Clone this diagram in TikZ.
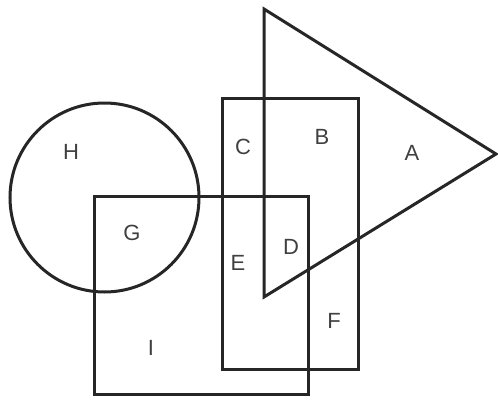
\documentclass[tikz,border=0pt]{standalone}
\usepackage{fontspec}
\setmainfont{Liberation Sans}
\usetikzlibrary{positioning}
\tikzset{
  outline/.style={draw=black!85,line width=3pt,line join=miter},
  region/.style={text=black!75,font=\fontsize{22}{26}\selectfont,inner sep=0pt}
}
\begin{document}
\begin{tikzpicture}[x=1pt,y=-1pt]
  \useasboundingbox (0,0) rectangle (498,399);
  % shapes
  \draw[outline] (264,9) -- (496,154) -- (264,297) -- cycle;
  \draw[outline] (222,98) rectangle (358,369);
  \draw[outline] (104.5,197.5) circle[radius=94.5];
  \draw[outline] (94,196) rectangle (308,394);

  % region labels
  \node[region] (lblA) at (412,153) {A};
  \node[region] (lblB) at (322,137) {B};
  \node[region] (lblC) at (243,147) {C};
  \node[region] (lblD) at (291,247) {D};
  \node[region] (lblE) at (238,263) {E};
  \node[region] (lblF) at (334,321) {F};
  \node[region] (lblG) at (132,233) {G};
  \node[region] (lblH) at (71,152) {H};
  \node[region] (lblI) at (151,348) {I};
\end{tikzpicture}
\end{document}
